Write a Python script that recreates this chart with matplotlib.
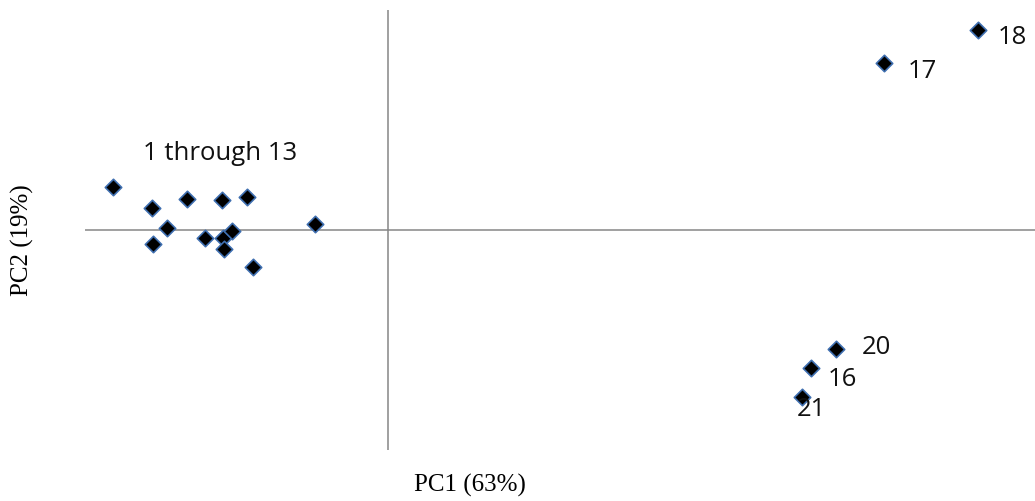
import matplotlib
matplotlib.use("Agg")
import matplotlib.pyplot as plt

# PCA scores of the 18 samples
cluster_pc1 = [-2.75, -2.36, -2.01, -1.66, -1.41, -2.21, -2.35, -1.83, -1.65, -1.64, -1.56, -1.35, -0.73]
cluster_pc2 = [0.43, 0.22, 0.31, 0.30, 0.33, 0.02, -0.14, -0.08, -0.08, -0.19, -0.01, -0.37, 0.06]

named_ids = ["18", "17", "20", "16", "21"]
named_pc1 = [5.90, 4.96, 4.48, 4.23, 4.14]
named_pc2 = [2.00, 1.67, -1.19, -1.38, -1.67]
# label offsets in pixels (dx, dy)
label_offsets = [(20, -8), (24, -9), (26, 2), (17, -11), (-5, -13)]

cluster_label = "1 through 13"
x_title = "PC1 (63%)"
y_title = "PC2 (19%)"

fig = plt.figure(figsize=(10.35, 5.01), dpi=100)
ax = fig.add_axes([85 / 1035, 51 / 501, 950 / 1035, 440 / 501])
ax.set_xlim(-3.03, 6.47)
ax.set_ylim(-2.2, 2.2)
for s in ax.spines.values():
    s.set_visible(False)
ax.set_xticks([])
ax.set_yticks([])

axis_color = "#868686"
ax.axhline(0, color=axis_color, lw=1.1, zorder=1)
ax.axvline(0, color=axis_color, lw=1.1, zorder=1)

mk = dict(marker="D", s=70, facecolor="black", edgecolor="#3f6fb0", linewidths=1.2, zorder=3)
ax.scatter(cluster_pc1, cluster_pc2, **mk)
ax.scatter(named_pc1, named_pc2, **mk)

label_font = dict(family=["Open Sans", "DejaVu Sans"], fontsize=18.5, color="#111111")
for name, x, y, (dx, dy) in zip(named_ids, named_pc1, named_pc2, label_offsets):
    ax.annotate(name, (x, y), xytext=(dx * 0.72, dy * 0.72), textcoords="offset points",
                ha="left", va="center", **label_font)

ax.text(-1.68, 0.76, cluster_label, ha="center", va="center", **label_font)

fig.text(470 / 1035, 1 - 485 / 501, x_title, ha="center", va="center",
         family="Liberation Serif", fontsize=18)
fig.text(22 / 1035, 1 - 240 / 501, y_title, ha="center", va="center", rotation=90,
         family="Liberation Serif", fontsize=18)

fig.savefig("out.png", dpi=100)
